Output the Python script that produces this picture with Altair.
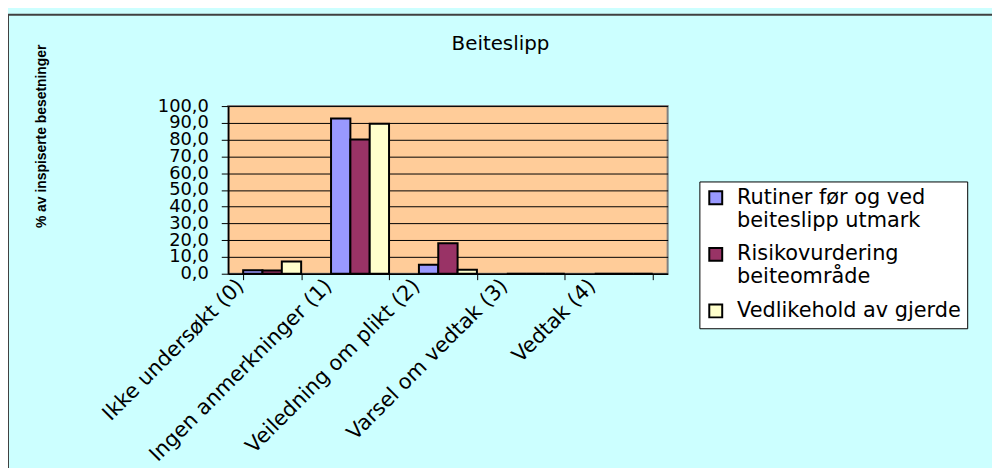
import altair as alt
import pandas as pd

categories = ["Ikke undersøkt (0)", "Ingen anmerkninger (1)", "Veiledning om plikt (2)",
              "Varsel om vedtak (3)", "Vedtak (4)"]
series = ["Rutiner før og ved beiteslipp utmark", "Risikovurdering beiteområde",
          "Vedlikehold av gjerde"]
series_lines = [["Rutiner før og ved", "beiteslipp utmark"],
                ["Risikovurdering", "beiteområde"],
                ["Vedlikehold av gjerde"]]
rutiner = [2.0, 92.6, 5.4, 0.0, 0.0]
risiko = [1.9, 80.0, 18.2, 0.0, 0.0]
gjerde = [7.3, 89.4, 2.3, 0.0, 0.0]
colors = ["#9999FF", "#993366", "#FFFFCC"]
y_ticks = [0, 10, 20, 30, 40, 50, 60, 70, 80, 90, 100]

rows = []
for s, vals in zip(series, [rutiner, risiko, gjerde]):
    for c, v in zip(categories, vals):
        rows.append({"kategori": c, "serie": s, "verdi": v})
df = pd.DataFrame(rows)

# legend label expression producing multi-line labels
parts = []
for s, lines in zip(series, series_lines):
    arr = "[" + ",".join("'" + l + "'" for l in lines) + "]"
    parts.append(f"datum.label == '{s}' ? {arr} : ")
label_expr = "".join(parts) + "datum.label"

FONT = "DejaVu Sans"

bars = alt.Chart(df).mark_bar(stroke="black", strokeWidth=2).encode(
    x=alt.X("kategori:N", sort=categories,
            scale=alt.Scale(paddingInner=0.34, paddingOuter=0.17),
            axis=alt.Axis(title=None, labelAngle=-45, labelAlign="right",
                          labelBaseline="middle", labelPadding=3, labelOffset=-32,
                          labelFont=FONT, labelFontSize=21, labelColor="black",
                          labelLimit=500, labelOverlap=False, tickBand="extent",
                          domainColor="black", domainWidth=1.5, tickColor="black",
                          tickSize=6, grid=False)),
    xOffset=alt.XOffset("serie:N", sort=series),
    y=alt.Y("verdi:Q", scale=alt.Scale(domain=[0, 100], nice=False),
            axis=alt.Axis(title="% av inspiserte besetninger", values=y_ticks,
                          labelExpr="replace(format(datum.value, '.1f'), '.', ',')",
                          labelFont=FONT, labelFontSize=18, labelColor="black",
                          labelPadding=13, labelOverlap=False, labelBaseline="middle",
                          tickColor="black", tickSize=7, domainColor="black",
                          domainWidth=1.5, gridColor="black", gridWidth=1,
                          titleFont="Liberation Sans", titleFontSize=14,
                          titleFontWeight="bold", titleColor="black",
                          titleAngle=-90, titleX=-188, titleY=30,
                          titleAlign="center", titleBaseline="middle")),
    color=alt.Color("serie:N", sort=series,
                    scale=alt.Scale(domain=series, range=colors),
                    legend=alt.Legend(title=None, orient="none", legendX=475, legendY=76,
                                      fillColor="white", strokeColor="black",
                                      padding=6, symbolType="square", symbolSize=170,
                                      symbolStrokeColor="black", symbolStrokeWidth=2,
                                      labelFont=FONT, labelFontSize=21,
                                      labelColor="black", labelExpr=label_expr,
                                      labelLimit=500, labelOffset=11, rowPadding=12,
                                      direction="vertical")),
)

frame = alt.Chart(pd.DataFrame({"f": [0]})).mark_rect(
    fillOpacity=0, stroke="#404040", strokeWidth=2
).encode(x=alt.value(-222), x2=alt.value(900), y=alt.value(-92), y2=alt.value(500))

chart = alt.layer(frame, bars).properties(
    width=443, height=169,
    title=alt.TitleParams("Beiteslipp", font=FONT, fontSize=20, fontWeight="normal",
                          color="black", anchor="middle", dx=53, offset=-40),
    autosize=alt.AutoSizeParams(type="none"),
    padding={"left": 222, "top": 97, "right": 327, "bottom": 194},
    background="#CCFFFF",
).configure_view(
    fill="#FFCC99", stroke="#808080", strokeWidth=2
)

chart.save("out.html", embed_options={"renderer": "svg", "actions": False})
